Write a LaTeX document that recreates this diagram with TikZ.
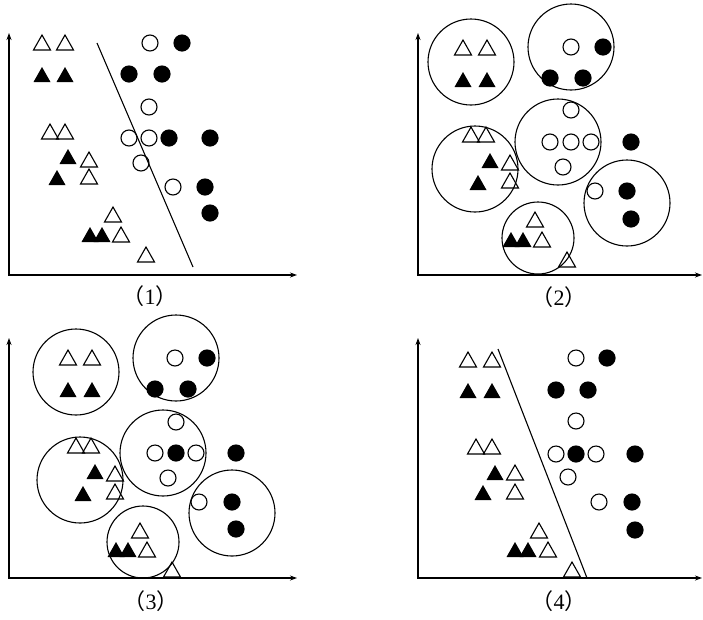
\documentclass[tikz,border=0pt]{standalone}
\usepackage{fontspec}
\setmainfont{Liberation Serif}
\newfontfamily\cjk{Noto Sans CJK SC}
\usetikzlibrary{arrows.meta}

\tikzset{
  otri/.pic={\draw (-8.5,7) -- (0,-8) -- (8.5,7) -- cycle;},
  ftri/.pic={\fill (-8.5,7) -- (0,-8) -- (8.5,7) -- cycle;},
  odot/.pic={\draw (0,0) circle (8);},
  fdot/.pic={\fill (0,0) circle (8.6);},
  axis/.style={{Stealth[length=7pt,width=5pt]}-{Stealth[length=7pt,width=5pt]}},
  cluster/.style={line width=1.1pt},
  caption/.style={font=\fontsize{22}{22}\selectfont, inner sep=0pt}
}
\newcommand{\capnum}[1]{{\cjk （}#1{\cjk ）}}

\begin{document}
\begin{tikzpicture}[x=1pt,y=-1pt,line width=1.1pt]
\useasboundingbox (0,0) rectangle (703,619);

% axes of the four panels
\foreach \ox/\oy/\ty/\ex in {9/275/33/297, 418/275/33/702,
                             9/578/338/297, 418/578/338/702}{%
  \draw[axis] (\ox,\ty) |- (\ex,\oy);
}

% captions
\node[caption] (cap1) at (150,296) {\capnum{1}};
\node[caption] (cap2) at (559,297) {\capnum{2}};
\node[caption] (cap3) at (151,601) {\capnum{3}};
\node[caption] (cap4) at (559,601) {\capnum{4}};

% (1) data and separating line
\foreach \x/\y in {42/43,65/43,50/132,65/132,89/160,89/177,113/215,121/235,146/255}
  \pic at (\x,\y) {otri};
\foreach \x/\y in {42/75,65/75,68/157,57/178,90/235,102/235}
  \pic at (\x,\y) {ftri};
\foreach \x/\y in {150/43,149/107,129/138,149/138,141/163,173/187}
  \pic at (\x,\y) {odot};
\foreach \x/\y in {182/43,129/74,162/74,169/138,210/138,205/187,210/213}
  \pic at (\x,\y) {fdot};
\draw (97,43) -- (193,267);

% (2) data and clusters
\foreach \x/\y in {463/48,487/48,471/135,486/135,510/163,510/181,535/220,542/240,567/260}
  \pic at (\x,\y) {otri};
\foreach \x/\y in {463/80,487/80,490/161,478/183,511/240,523/240}
  \pic at (\x,\y) {ftri};
\foreach \x/\y in {571/47,571/110,550/142,571/142,591/142,563/167,595/191}
  \pic at (\x,\y) {odot};
\foreach \x/\y in {603/47,550/78,583/78,631/142,627/191,631/219}
  \pic at (\x,\y) {fdot};
\foreach \x/\y/\r in {471/62/43,571/47/43,475/169/43,558/142/43,627/203/43,538/238/36}
  \draw[cluster] (\x,\y) circle (\r);

% (3) data and clusters
\foreach \x/\y in {68/358,92/358,76/446,91/446,115/474,115/492,140/531,147/550,172/570}
  \pic at (\x,\y) {otri};
\foreach \x/\y in {68/390,92/390,95/472,83/494,116/550,128/550}
  \pic at (\x,\y) {ftri};
\foreach \x/\y in {175/358,176/422,155/453,196/453,168/478,199/502}
  \pic at (\x,\y) {odot};
\foreach \x/\y in {207/358,155/389,188/389,176/453,236/453,232/502,236/529}
  \pic at (\x,\y) {fdot};
\foreach \x/\y/\r in {76/372/43,176/358/43,80/480/43,163/453/43,232/513/43,143/542/36}
  \draw[cluster] (\x,\y) circle (\r);

% (4) data and new separating line
\foreach \x/\y in {468/360,492/360,476/447,492/447,515/473,515/492,539/531,548/550,572/570}
  \pic at (\x,\y) {otri};
\foreach \x/\y in {468/391,492/391,495/473,483/493,515/550,528/550}
  \pic at (\x,\y) {ftri};
\foreach \x/\y in {576/358,576/421,556/454,596/454,568/477,599/502}
  \pic at (\x,\y) {odot};
\foreach \x/\y in {607/358,556/390,588/390,576/454,635/454,632/502,635/530}
  \pic at (\x,\y) {fdot};
\draw (498,349) -- (587,578);

\end{tikzpicture}
\end{document}
